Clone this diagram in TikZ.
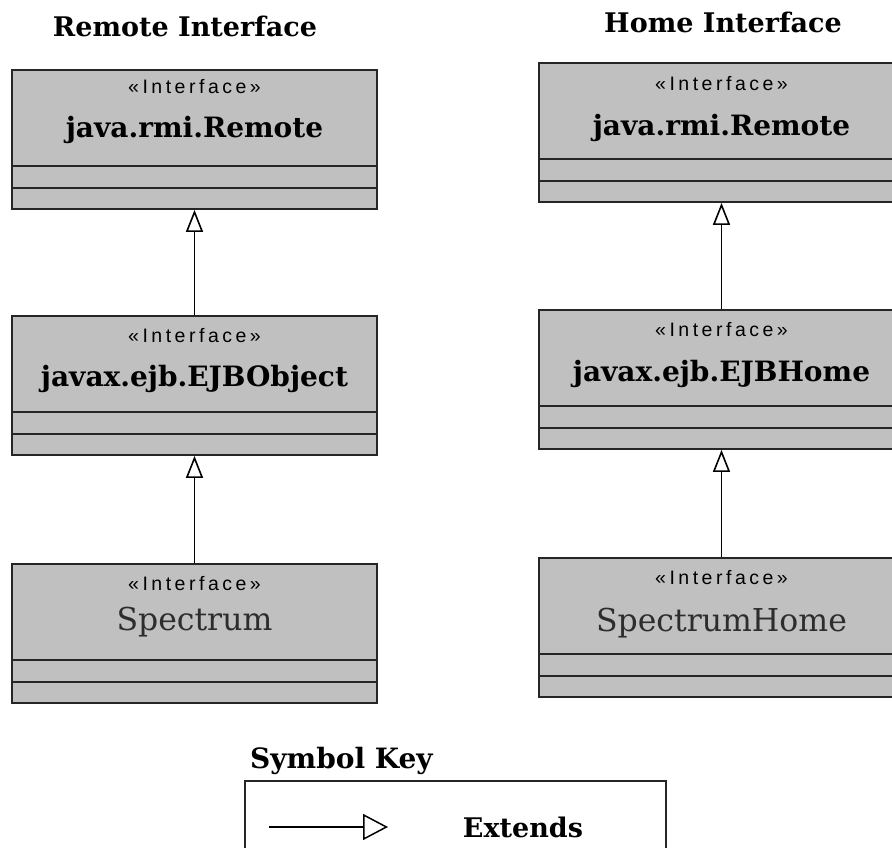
\documentclass[tikz,border=0pt]{standalone}
\usepackage{fontspec}
\setmainfont{DejaVu Serif}
\newfontfamily\stereofont[LetterSpace=18]{Liberation Sans}
\usetikzlibrary{calc,positioning,arrows.meta}
\definecolor{boxgray}{RGB}{192,192,192}
\definecolor{namegray}{RGB}{45,45,45}
\tikzset{
    classbox/.style={
        rectangle,
        fill=boxgray,
        draw=black!85, line width=1.8pt,
        minimum width=365pt,
        minimum height=139pt,
        inner sep=0
    },
    stereo/.style={anchor=base, font={\stereofont\fontsize{19.5pt}{22pt}\selectfont}},
    cname/.style={anchor=base, font={\bfseries\fontsize{28pt}{32pt}\selectfont}},
    iname/.style={anchor=base, text=namegray, font={\fontsize{31.5pt}{36pt}\selectfont}},
    heading/.style={anchor=base, font={\bfseries\fontsize{27pt}{30pt}\selectfont}},
    inherit/.style={line width=1.6pt, -{Triangle[open, length=22pt, width=17pt]}},
    divider/.style={line width=1.8pt, draw=black!85},
}

\begin{document}
\begin{tikzpicture}[x=1pt, y=1pt]
        \useasboundingbox (0,0) rectangle (892,847);
        \clip (0,0) rectangle (892,847);

        % remote side
        \node [heading] (rtitle) at (185,810) {Remote Interface};
        \node [classbox] (r1) at (194.5,707.5) {};
        \node [classbox] (r2) at (194.5,461.5) {};
        \node [classbox] (r3) at (194.5,213.5) {};
        \node [stereo] (r1s) at ($(r1.north)+(0,-24)$) {«Interface»};
        \node [cname] (r1n) at ($(r1.north)+(0,-68)$) {java.rmi.Remote};
        \node [stereo] (r2s) at ($(r2.north)+(0,-27)$) {«Interface»};
        \node [cname] (r2n) at ($(r2.north)+(0,-71)$) {javax.ejb.EJBObject};
        \node [stereo] (r3s) at ($(r3.north)+(0,-27)$) {«Interface»};
        \node [iname] (r3n) at ($(r3.north)+(0,-67)$) {Spectrum};

        % home side
        \node [heading] (htitle) at (723,814) {Home Interface};
        \node [classbox] (h1) at (721.5,714.5) {};
        \node [classbox] (h2) at (721.5,467.5) {};
        \node [classbox] (h3) at (721.5,219.5) {};
        \node [stereo] (h1s) at ($(h1.north)+(0,-28)$) {«Interface»};
        \node [cname] (h1n) at ($(h1.north)+(0,-73)$) {java.rmi.Remote};
        \node [stereo] (h2s) at ($(h2.north)+(0,-27)$) {«Interface»};
        \node [cname] (h2n) at ($(h2.north)+(0,-72)$) {javax.ejb.EJBHome};
        \node [stereo] (h3s) at ($(h3.north)+(0,-27)$) {«Interface»};
        \node [iname] (h3n) at ($(h3.north)+(0,-74)$) {SpectrumHome};

        \foreach \b in {r1,r2,r3,h1,h2,h3} {
            \draw [divider] ($(\b.south west)+(0,22)$) -- ($(\b.south east)+(0,22)$);
            \draw [divider] ($(\b.south west)+(0,44)$) -- ($(\b.south east)+(0,44)$);
        }

        \draw [inherit] (r2.north) -- (r1.south);
        \draw [inherit] (r3.north) -- (r2.south);
        \draw [inherit] (h2.north) -- (h1.south);
        \draw [inherit] (h3.north) -- (h2.south);

        % key
        \node [heading, anchor=base west, inner sep=0, font={\bfseries\fontsize{28pt}{30pt}\selectfont}] (ktitle) at (250,79) {Symbol Key};
        \draw [divider] (245,-10) -- (245,66) -- (666,66) -- (666,-10);
        \coordinate (ka) at (269,20);
        \coordinate (kb) at (388,20);
        \draw [line width=1.5pt, -{Triangle[open, length=25pt, width=26pt]}] (ka) -- (kb);
        \node [heading] (ext) at (523,10) {Extends};
\end{tikzpicture}
\end{document}
